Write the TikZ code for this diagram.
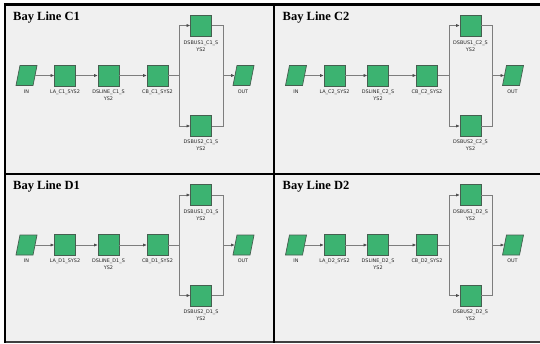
\documentclass[tikz,border=0pt]{standalone}
\usepackage{fontspec}
\setmainfont{Liberation Serif}
\newfontfamily\lblfont{DejaVu Sans}
\usetikzlibrary{shapes.geometric,arrows.meta}
\definecolor{boxgreen}{RGB}{60,179,113}
\definecolor{boxedge}{RGB}{70,95,80}
\definecolor{wire}{RGB}{125,125,125}
\definecolor{panelbg}{RGB}{240,240,240}
\tikzset{
  blk/.style={draw=boxedge, fill=boxgreen, line width=0.7pt, minimum width=21pt, minimum height=21pt, inner sep=0pt},
  para/.style={trapezium, trapezium left angle=73, trapezium right angle=107, trapezium stretches=true, draw=boxedge, fill=boxgreen, line width=0.7pt, minimum width=21pt, minimum height=20pt, inner sep=1pt},
  lbl/.style={font=\lblfont\fontsize{4.9}{6.7}\selectfont, align=center, inner sep=0pt, anchor=north, text=black!85},
  ttl/.style={font=\bfseries\fontsize{12.5}{14}\selectfont, anchor=base west, inner sep=0pt},
  wirel/.style={draw=wire, line width=0.6pt},
  arr/.style={wirel, -{Latex[length=3.5pt,width=3.2pt,color=black!70]}},
  frameline/.style={draw=black, line width=2.2pt},
}
\newcommand\bayline[4]{%
\begin{scope}[shift={(#3,#4)}, name prefix=#1-]
  \node[ttl] (title) at (13,20) {Bay Line #2};
  \node[para] (in) at (26.5,75.5) {};
  \node[blk] (la) at (65,75.5) {};
  \node[blk] (dsl) at (108.5,75.5) {};
  \node[blk] (cb) at (157.5,75.5) {};
  \node[blk] (b1) at (201,25.5) {};
  \node[blk] (b2) at (201,126) {};
  \node[para] (out) at (243.5,75.5) {};
  \coordinate (sp) at (179.5,75.5);
  \coordinate (mg) at (223,75.5);
  \node[lbl] (inl) at (26.5,89.5) {IN};
  \node[lbl] (lal) at (65,89.5) {LA\_#2\_SYS2};
  \node[lbl] (dsll) at (108.5,89.5) {DSLINE\_#2\_S\\YS2};
  \node[lbl] (cbl) at (157.5,89.5) {CB\_#2\_SYS2};
  \node[lbl] (b1l) at (201,40.5) {DSBUS1\_#2\_S\\YS2};
  \node[lbl] (b2l) at (201,140) {DSBUS2\_#2\_S\\YS2};
  \node[lbl] (outl) at (243,89.5) {OUT};
  \draw[arr] (in.east) -- (la.west);
  \draw[arr] (la.east) -- (dsl.west);
  \draw[arr] (dsl.east) -- (cb.west);
  \draw[wirel] (cb.east) -- (sp);
  \draw[arr] (sp) |- (b1.west);
  \draw[arr] (sp) |- (b2.west);
  \draw[wirel] (b1.east) -| (mg);
  \draw[wirel] (b2.east) -| (mg);
  \draw[arr] (mg) -- (out.west);
\end{scope}}
\begin{document}
\begin{tikzpicture}[x=1pt,y=-1pt]
  \useasboundingbox (0,0) rectangle (540,343);
  \fill[white] (0,0) rectangle (540,343);
  \fill[panelbg] (5,4.5) rectangle (540,342);
  \draw[draw=black!75, line width=2pt] (5,342) -- (540,342);
  \draw[frameline] (3.9,4.5) -- (540,4.5);
  \draw[frameline] (5,3.4) -- (5,343);
  \draw[frameline] (274,4.5) -- (274,343);
  \draw[frameline] (5,174) -- (540,174);
  \bayline{c1}{C1}{0}{0}
  \bayline{c2}{C2}{269.5}{0}
  \bayline{d1}{D1}{0}{169.5}
  \bayline{d2}{D2}{269.5}{169.5}
\end{tikzpicture}
\end{document}
